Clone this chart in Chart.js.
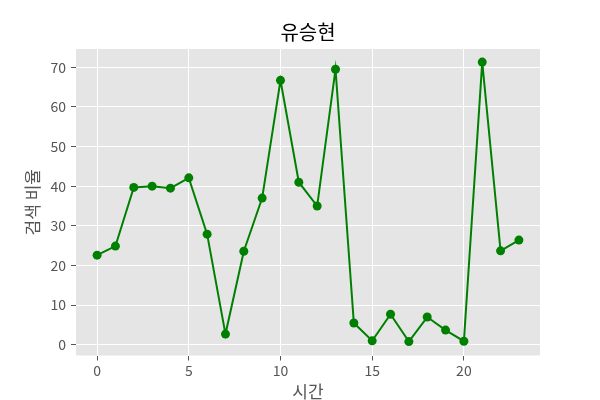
<!DOCTYPE html>
<html>
<head>
<meta charset="utf-8">
<script src="https://cdn.jsdelivr.net/npm/chart.js@4.4.1/dist/chart.umd.min.js"></script>
<style>
  html, body { margin: 0; padding: 0; background: #fff; }
  #wrap { width: 600px; height: 400px; }
</style>
</head>
<body>
<div id="wrap"><canvas id="c" width="600" height="400"></canvas></div>
<script>
const hours = [0,1,2,3,4,5,6,7,8,9,10,11,12,13,14,15,16,17,18,19,20,21,22,23];
const ratios = [22.6,24.9,39.7,40.0,39.5,42.1,27.9,2.7,23.6,37.0,66.7,41.0,35.0,69.5,5.5,1.0,7.7,0.8,7.0,3.7,0.9,71.3,23.7,26.4];
const xTicks = [0,5,10,15,20];
const yTicks = [0,10,20,30,40,50,60,70];
const titleText = '유승현';
const xLabel = '시간';
const yLabel = '검색 비율';

const FONT = "'Noto Sans CJK KR', 'Noto Sans', sans-serif";

const bgPlugin = {
  id: 'bg',
  beforeDraw(chart) {
    const {ctx, chartArea: a} = chart;
    ctx.save();
    ctx.fillStyle = '#E5E5E5';
    ctx.fillRect(a.left, a.top, a.right - a.left, a.bottom - a.top);
    ctx.restore();
  }
};

new Chart(document.getElementById('c'), {
  type: 'line',
  data: {
    datasets: [{
      data: hours.map((h, i) => ({x: h, y: ratios[i]})),
      borderColor: '#008000',
      backgroundColor: '#008000',
      borderWidth: 2,
      pointRadius: 4.5,
      pointHoverRadius: 4.5,
      pointBorderWidth: 0,
      tension: 0,
      fill: false,
      xAxisID: 'x',
      yAxisID: 'y'
    }]
  },
  options: {
    responsive: false,
    animation: false,
    layout: { padding: { left: 16, right: 0, top: 0, bottom: 0 } },
    plugins: {
      legend: { display: false },
      tooltip: { enabled: false },
      title: {
        display: true,
        text: titleText,
        color: '#000000',
        font: { family: FONT, size: 20, weight: 'normal', lineHeight: 1.2 },
        padding: { top: 20, bottom: 5 }
      }
    },
    scales: {
      x: {
        type: 'linear',
        min: -1.15,
        max: 24.15,
        afterFit(scale) { scale.height = 44.5; },
        afterBuildTicks(scale) { scale.ticks = xTicks.map(v => ({value: v})); },
        ticks: { color: '#555555', font: { family: FONT, size: 14 }, padding: 2, maxRotation: 0 },
        grid: { color: '#FFFFFF', lineWidth: 1, tickColor: '#555555', tickLength: 5, drawTicks: true },
        border: { display: false },
        title: {
          display: true, text: xLabel, color: '#555555',
          font: { family: FONT, size: 17, lineHeight: 1 },
          padding: { top: 0, bottom: 0 }
        }
      },
      y: {
        type: 'linear',
        position: 'left',
        min: -2.7,
        max: 74.6,
        afterFit(scale) { scale.width = 60; },
        afterBuildTicks(scale) { scale.ticks = yTicks.map(v => ({value: v})); },
        ticks: { color: '#555555', font: { family: FONT, size: 14 }, padding: 5 },
        grid: { color: '#FFFFFF', lineWidth: 1, tickColor: '#555555', tickLength: 5, drawTicks: true },
        border: { display: false },
        title: {
          display: true, text: yLabel, color: '#555555',
          font: { family: FONT, size: 17, lineHeight: 1 },
          padding: { top: 8, bottom: 0 }
        }
      },
      yPad: {
        type: 'linear',
        axis: 'y',
        position: 'right',
        min: 0,
        max: 1,
        afterFit(scale) { scale.width = 60; },
        ticks: { display: false },
        grid: { display: false, drawTicks: false },
        border: { display: false },
        title: { display: false }
      }
    }
  },
  plugins: [bgPlugin]
});
</script>
</body>
</html>
